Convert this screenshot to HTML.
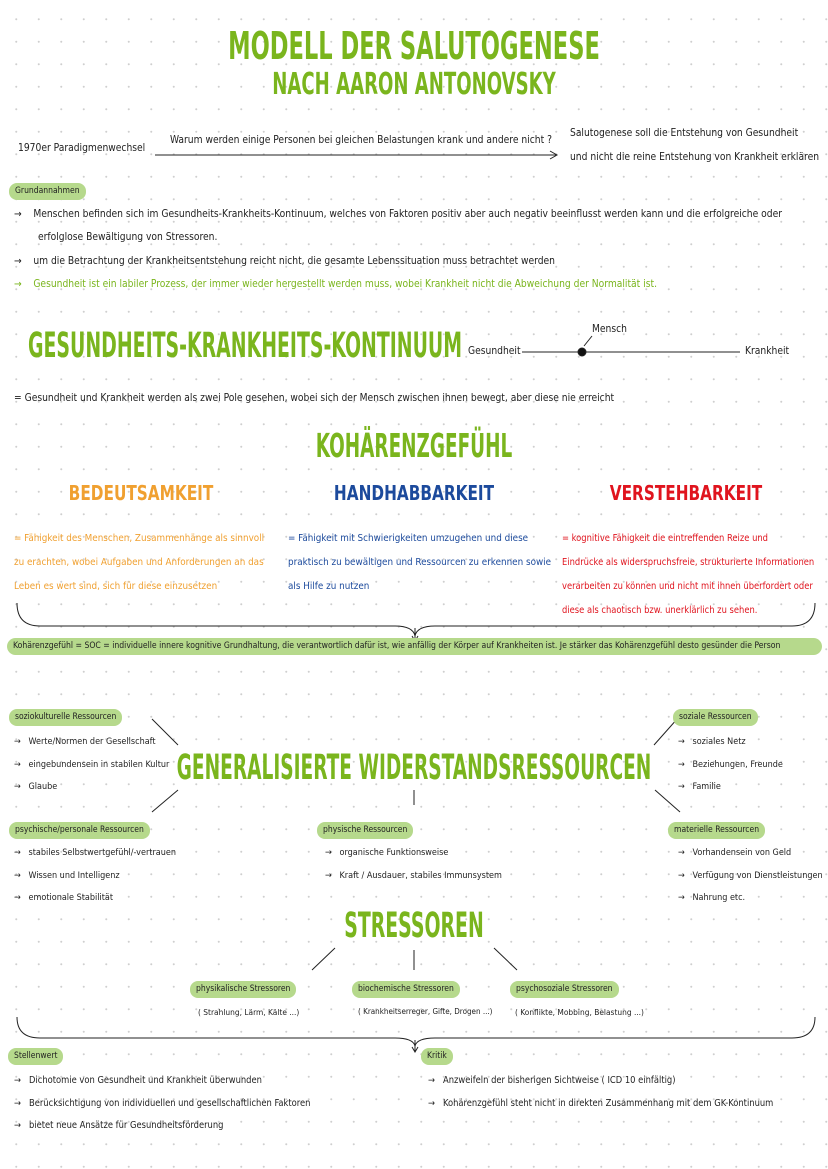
<!DOCTYPE html>
<html><head><meta charset="utf-8"><style>
body{margin:0;width:828px;height:1169px;position:relative;overflow:hidden;background:#fff;
background-image:radial-gradient(circle,#cfcfcf 0.8px,transparent 1.2px);background-size:22.5px 22.5px;background-position:5px 8px;
font-family:"DejaVu Sans Condensed","Liberation Sans",sans-serif;color:#222}
.t{position:absolute;white-space:nowrap;font-size:10.2px;line-height:12px}
.h{position:absolute;white-space:nowrap;font-weight:bold;color:#7ab51d;font-family:"DejaVu Sans Condensed",sans-serif;transform-origin:center;text-align:center}
.p{position:absolute;white-space:nowrap;background:#b6d98c;border-radius:8px;font-size:8.5px;line-height:17px;padding:0 6px;color:#222}
.sub{position:absolute;font-weight:bold;font-size:20px;white-space:nowrap;text-align:center;transform:scaleX(0.85)}
svg{position:absolute;left:0;top:0}
</style></head><body>
<svg width="828" height="1169" fill="none" stroke="#222" stroke-width="1">
<line x1="155" y1="155" x2="556" y2="155"/><path d="M550 151 L557 155 L550 159"/>
<line x1="522" y1="352" x2="740" y2="352"/><circle cx="582" cy="352" r="4" fill="#111"/>
<line x1="592" y1="336" x2="584" y2="346"/>
<path d="M17 603 Q17 626 40 626 L395 626 Q413 626 415 636 Q417 626 435 626 L792 626 Q815 626 815 603"/>
<line x1="415" y1="628" x2="415" y2="640"/><path d="M412 636 L415 641 L418 636"/>
<line x1="152" y1="719" x2="178" y2="745"/><line x1="152" y1="812" x2="178" y2="790"/>
<line x1="414" y1="790" x2="414" y2="805"/>
<line x1="678" y1="718" x2="654" y2="745"/><line x1="655" y1="790" x2="680" y2="812"/>
<line x1="312" y1="970" x2="335" y2="948"/><line x1="414" y1="950" x2="414" y2="970"/><line x1="494" y1="948" x2="517" y2="970"/>
<path d="M17 1017 Q17 1038 40 1038 L395 1038 Q413 1038 415 1046 Q417 1038 435 1038 L792 1038 Q815 1038 815 1017"/>
<line x1="415" y1="1040" x2="415" y2="1051"/><path d="M412 1047 L415 1052 L418 1047"/>
</svg>

<div class="h" style="left:0;width:828px;top:24px;font-size:38px;transform:scaleX(0.66)">MODELL DER SALUTOGENESE</div>
<div class="h" style="left:0;width:828px;top:67px;font-size:30px;transform:scaleX(0.67)">NACH AARON ANTONOVSKY</div>

<div class="t" style="left:18px;top:143px">1970er Paradigmenwechsel</div>
<div class="t" style="left:170px;top:135px">Warum werden einige Personen bei gleichen Belastungen krank und andere nicht ?</div>
<div class="t" style="left:570px;top:128px">Salutogenese soll die Entstehung von Gesundheit</div>
<div class="t" style="left:570px;top:152px">und nicht die reine Entstehung von Krankheit erklären</div>

<div class="p" style="left:9px;top:183px">Grundannahmen</div>
<div class="t" style="left:14px;top:209px">→&nbsp;&nbsp;&nbsp; Menschen befinden sich im Gesundheits-Krankheits-Kontinuum, welches von Faktoren positiv aber auch negativ beeinflusst werden kann und die erfolgreiche oder</div>
<div class="t" style="left:38px;top:232px">erfolglose Bewältigung von Stressoren.</div>
<div class="t" style="left:14px;top:256px">→&nbsp;&nbsp;&nbsp; um die Betrachtung der Krankheitsentstehung reicht nicht, die gesamte Lebenssituation muss betrachtet werden</div>
<div class="t" style="left:14px;top:279px;color:#7ab51d">→&nbsp;&nbsp;&nbsp; Gesundheit ist ein labiler Prozess, der immer wieder hergestellt werden muss, wobei Krankheit nicht die Abweichung der Normalität ist.</div>

<div class="h" style="left:28px;top:326px;font-size:35px;transform:scaleX(0.6);transform-origin:left">GESUNDHEITS-KRANKHEITS-KONTINUUM</div>
<div class="t" style="left:468px;top:346px">Gesundheit</div>
<div class="t" style="left:592px;top:324px">Mensch</div>
<div class="t" style="left:745px;top:346px">Krankheit</div>
<div class="t" style="left:14px;top:393px">= Gesundheit und Krankheit werden als zwei Pole gesehen, wobei sich der Mensch zwischen ihnen bewegt, aber diese nie erreicht</div>

<div class="h" style="left:0;width:828px;top:426px;font-size:33px;transform:scaleX(0.62)">KOHÄRENZGEFÜHL</div>
<div class="sub" style="left:40px;width:202px;top:481px;color:#f0a030">BEDEUTSAMKEIT</div>
<div class="sub" style="left:313px;width:202px;top:481px;color:#1c4a9c">HANDHABBARKEIT</div>
<div class="sub" style="left:585px;width:202px;top:481px;color:#e0141e">VERSTEHBARKEIT</div>

<div class="t" style="left:14px;top:527px;color:#f0a030;line-height:24px;font-size:9.8px">= Fähigkeit des Menschen, Zusammenhänge als sinnvoll<br>zu erachten, wobei Aufgaben und Anforderungen an das<br>Leben es wert sind, sich für diese einzusetzen</div>
<div class="t" style="left:288px;top:527px;color:#1c4a9c;line-height:24px;font-size:9.8px">= Fähigkeit mit Schwierigkeiten umzugehen und diese<br>praktisch zu bewältigen und Ressourcen zu erkennen sowie<br>als Hilfe zu nutzen</div>
<div class="t" style="left:562px;top:527px;color:#e0141e;line-height:24px;font-size:9.3px">= kognitive Fähigkeit die eintreffenden Reize und<br>Eindrücke als widerspruchsfreie, strukturierte Informationen<br>verarbeiten zu können und nicht mit ihnen überfordert oder<br>diese als chaotisch bzw. unerklärlich zu sehen.</div>

<div class="p" style="left:7px;top:638px;width:803px;font-size:8.6px;border-radius:9px">Kohärenzgefühl = SOC = individuelle innere kognitive Grundhaltung, die verantwortlich dafür ist, wie anfällig der Körper auf Krankheiten ist. Je stärker das Kohärenzgefühl desto gesünder die Person</div>

<div class="p" style="left:9px;top:709px">soziokulturelle Ressourcen</div>
<div class="t" style="left:14px;top:736px;font-size:9px">→&nbsp;&nbsp; Werte/Normen der Gesellschaft</div>
<div class="t" style="left:14px;top:759px;font-size:9px">→&nbsp;&nbsp; eingebundensein in stabilen Kultur</div>
<div class="t" style="left:14px;top:781px;font-size:9px">→&nbsp;&nbsp; Glaube</div>
<div class="p" style="left:673px;top:709px">soziale Ressourcen</div>
<div class="t" style="left:678px;top:736px;font-size:9px">→&nbsp;&nbsp; soziales Netz</div>
<div class="t" style="left:678px;top:759px;font-size:9px">→&nbsp;&nbsp; Beziehungen, Freunde</div>
<div class="t" style="left:678px;top:781px;font-size:9px">→&nbsp;&nbsp; Familie</div>

<div class="h" style="left:0;width:828px;top:748px;font-size:35px;transform:scaleX(0.59)">GENERALISIERTE WIDERSTANDSRESSOURCEN</div>

<div class="p" style="left:9px;top:822px">psychische/personale Ressourcen</div>
<div class="t" style="left:14px;top:847px;font-size:9px">→&nbsp;&nbsp; stabiles Selbstwertgefühl/-vertrauen</div>
<div class="t" style="left:14px;top:870px;font-size:9px">→&nbsp;&nbsp; Wissen und Intelligenz</div>
<div class="t" style="left:14px;top:892px;font-size:9px">→&nbsp;&nbsp; emotionale Stabilität</div>
<div class="p" style="left:317px;top:822px">physische Ressourcen</div>
<div class="t" style="left:325px;top:847px;font-size:9px">→&nbsp;&nbsp; organische Funktionsweise</div>
<div class="t" style="left:325px;top:870px;font-size:9px">→&nbsp;&nbsp; Kraft / Ausdauer, stabiles Immunsystem</div>
<div class="p" style="left:668px;top:822px">materielle Ressourcen</div>
<div class="t" style="left:678px;top:847px;font-size:9px">→&nbsp;&nbsp; Vorhandensein von Geld</div>
<div class="t" style="left:678px;top:870px;font-size:9px">→&nbsp;&nbsp; Verfügung von Dienstleistungen</div>
<div class="t" style="left:678px;top:892px;font-size:9px">→&nbsp;&nbsp; Nahrung etc.</div>

<div class="h" style="left:0;width:828px;top:906px;font-size:35px;transform:scaleX(0.6)">STRESSOREN</div>

<div class="p" style="left:190px;top:981px">physikalische Stressoren</div>
<div class="p" style="left:352px;top:981px">biochemische Stressoren</div>
<div class="p" style="left:510px;top:981px">psychosoziale Stressoren</div>
<div class="t" style="left:198px;top:1006px;font-size:8.3px">( Strahlung, Lärm, Kälte ...)</div>
<div class="t" style="left:358px;top:1006px;font-size:8px">( Krankheitserreger, Gifte, Drogen ...)</div>
<div class="t" style="left:515px;top:1006px;font-size:8.3px">( Konflikte, Mobbing, Belastung ...)</div>

<div class="p" style="left:8px;top:1048px">Stellenwert</div>
<div class="t" style="left:14px;top:1075px;font-size:9.3px">→&nbsp;&nbsp; Dichotomie von Gesundheit und Krankheit überwunden</div>
<div class="t" style="left:14px;top:1098px;font-size:9.3px">→&nbsp;&nbsp; Berücksichtigung von individuellen und gesellschaftlichen Faktoren</div>
<div class="t" style="left:14px;top:1120px;font-size:9.3px">→&nbsp;&nbsp; bietet neue Ansätze für Gesundheitsförderung</div>
<div class="p" style="left:421px;top:1048px">Kritik</div>
<div class="t" style="left:428px;top:1075px;font-size:9.3px">→&nbsp;&nbsp; Anzweifeln der bisherigen Sichtweise ( ICD 10 einfältig)</div>
<div class="t" style="left:428px;top:1098px;font-size:9.3px">→&nbsp;&nbsp; Kohärenzgefühl steht nicht in direkten Zusammenhang mit dem GK-Kontinuum</div>
</body></html>
